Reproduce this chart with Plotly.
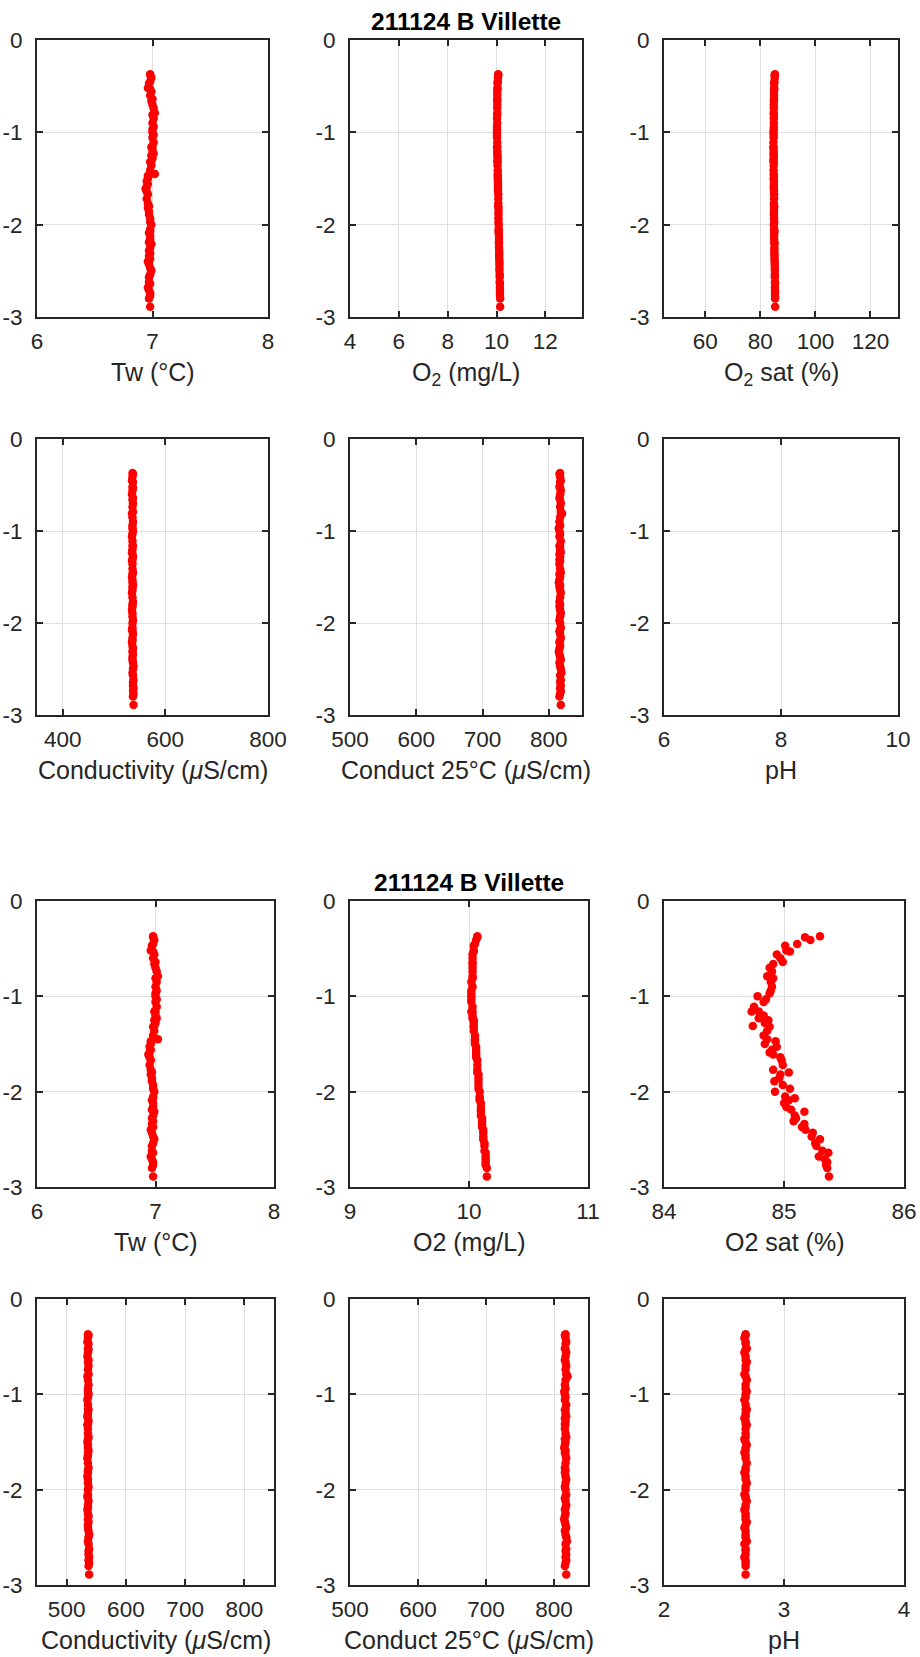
import plotly.graph_objects as go

# ---------------- data ----------------
depth = [-0.37, -0.38, -0.41, -0.45, -0.47, -0.52, -0.53, -0.56, -0.60, -0.64,
         -0.66, -0.70, -0.74, -0.79, -0.81, -0.85, -0.90, -0.94, -0.97, -1.00,
         -1.03, -1.06, -1.11, -1.16, -1.16, -1.20, -1.23, -1.25, -1.28, -1.31,
         -1.32, -1.36, -1.41, -1.45, -1.47, -1.50, -1.53, -1.56, -1.59, -1.61,
         -1.64, -1.67, -1.72, -1.77, -1.80, -1.82, -1.86, -1.89, -1.93, -1.97,
         -2.00, -2.05, -2.07, -2.09, -2.12, -2.16, -2.19, -2.21, -2.25, -2.28,
         -2.31, -2.34, -2.37, -2.40, -2.43, -2.47, -2.50, -2.54, -2.57, -2.62,
         -2.64, -2.68, -2.71, -2.74, -2.77, -2.80, -2.89]

temp_w = [6.98, 6.98, 6.99, 6.98, 6.97, 6.96, 6.98, 6.99, 6.98, 7.00,
          6.99, 7.00, 7.01, 7.02, 7.00, 7.01, 7.00, 7.01, 7.00, 7.00,
          7.01, 7.00, 7.01, 6.99, 7.00, 7.00, 7.01, 6.99, 7.00, 6.99,
          6.98, 6.99, 6.98, 7.02, 6.96, 6.96, 6.95, 6.96, 6.95, 6.94,
          6.95, 6.96, 6.95, 6.96, 6.97, 6.96, 6.97, 6.97, 6.98, 6.98,
          6.99, 6.98, 6.98, 6.97, 6.98, 6.98, 6.97, 6.99, 6.98, 6.97,
          6.98, 6.97, 6.98, 6.96, 6.97, 6.98, 6.99, 6.98, 6.97, 6.97,
          6.98, 6.96, 6.97, 6.98, 6.98, 6.97, 6.98]

o2_mgl = [10.07, 10.07, 10.06, 10.05, 10.04, 10.04, 10.04, 10.03, 10.03, 10.03,
          10.03, 10.03, 10.03, 10.03, 10.03, 10.02, 10.03, 10.02, 10.02, 10.02,
          10.02, 10.02, 10.03, 10.03, 10.02, 10.03, 10.03, 10.04, 10.04, 10.04,
          10.04, 10.04, 10.05, 10.05, 10.05, 10.05, 10.06, 10.06, 10.06, 10.06,
          10.06, 10.07, 10.07, 10.07, 10.07, 10.08, 10.08, 10.08, 10.08, 10.08,
          10.09, 10.09, 10.09, 10.09, 10.10, 10.10, 10.10, 10.10, 10.10, 10.11,
          10.11, 10.11, 10.11, 10.12, 10.12, 10.12, 10.12, 10.13, 10.13, 10.13,
          10.14, 10.14, 10.14, 10.14, 10.14, 10.15, 10.15]

o2_sat = [85.30, 85.175, 85.22, 85.11, 85.01, 85.02, 85.05, 84.94, 84.97, 84.99,
          84.91, 84.88, 84.90, 84.86, 84.91, 84.89, 84.90, 84.89, 84.88, 84.78,
          84.85, 84.83, 84.75, 84.73, 84.79, 84.83, 84.79, 84.87, 84.84, 84.74,
          84.88, 84.86, 84.83, 84.86, 84.93, 84.84, 84.94, 84.90, 84.88, 84.91,
          84.97, 84.98, 84.99, 84.91, 85.04, 84.97, 84.96, 84.92, 84.99, 85.05,
          84.925, 85.01, 85.09, 85.04, 85.00, 85.02, 85.06, 85.17, 85.09, 85.10,
          85.08, 85.17, 85.15, 85.18, 85.24, 85.23, 85.30, 85.26, 85.27, 85.32,
          85.37, 85.29, 85.34, 85.36, 85.35, 85.36, 85.375]

cond = [536, 537, 536, 535, 537, 536, 537, 536, 535, 537,
        536, 537, 536, 537, 535, 536, 537, 536, 536, 537,
        536, 535, 536, 537, 536, 536, 535, 536, 537, 536,
        535, 536, 536, 537, 536, 535, 536, 536, 537, 536,
        536, 535, 536, 537, 536, 536, 535, 536, 536, 537,
        536, 536, 535, 536, 537, 536, 536, 535, 536, 537,
        536, 537, 536, 536, 537, 538, 537, 536, 537, 538,
        537, 537, 538, 537, 538, 537, 538]

cond25 = [817, 816, 817, 818, 817, 816, 817, 818, 817, 816,
          817, 818, 817, 818, 820, 817, 816, 817, 815, 816,
          817, 816, 818, 817, 816, 817, 818, 816, 817, 816,
          817, 816, 817, 818, 816, 817, 816, 815, 817, 816,
          817, 818, 817, 816, 817, 816, 817, 818, 817, 816,
          817, 818, 817, 816, 817, 818, 817, 816, 817, 816,
          815, 816, 817, 818, 816, 817, 818, 819, 817, 818,
          817, 818, 817, 818, 817, 816, 818]

ph = [2.68, 2.68, 2.67, 2.68, 2.68, 2.69, 2.68, 2.67, 2.68, 2.68,
      2.69, 2.68, 2.68, 2.67, 2.68, 2.69, 2.68, 2.68, 2.69, 2.68,
      2.68, 2.67, 2.68, 2.68, 2.69, 2.68, 2.68, 2.67, 2.68, 2.68,
      2.69, 2.68, 2.68, 2.68, 2.67, 2.68, 2.69, 2.68, 2.68, 2.67,
      2.68, 2.68, 2.69, 2.68, 2.68, 2.67, 2.68, 2.68, 2.69, 2.68,
      2.68, 2.67, 2.68, 2.68, 2.69, 2.68, 2.68, 2.67, 2.68, 2.68,
      2.68, 2.69, 2.68, 2.67, 2.68, 2.68, 2.68, 2.69, 2.67, 2.68,
      2.68, 2.68, 2.67, 2.68, 2.68, 2.68, 2.68]

for s in (temp_w, o2_mgl, o2_sat, cond, cond25, ph):
    assert len(s) == len(depth)

title_text = "211124 B Villette"

top_labels = ["Tw (°C)", "O<sub>2</sub> (mg/L)", "O<sub>2</sub> sat (%)",
              "Conductivity (<i>μ</i>S/cm)", "Conduct 25°C (<i>μ</i>S/cm)", "pH"]
top_ranges = [[6, 8], [4, 13.5], [45, 130], [350, 800], [500, 850], [6, 10]]
top_ticks = [[6, 7, 8], [4, 6, 8, 10, 12], [60, 80, 100, 120],
             [400, 600, 800], [500, 600, 700, 800], [6, 8, 10]]

bot_labels = ["Tw (°C)", "O2 (mg/L)", "O2 sat (%)",
              "Conductivity (<i>μ</i>S/cm)", "Conduct 25°C (<i>μ</i>S/cm)", "pH"]
bot_ranges = [[6, 8], [9, 11], [84, 86], [450, 850], [500, 850], [2, 4]]
bot_ticks = [[6, 7, 8], [9, 10, 11], [84, 85, 86],
             [500, 600, 700, 800], [500, 600, 700, 800], [2, 3, 4]]

y_ticks = [0, -1, -2, -3]
y_ticktext = ["0", "-1", "-2", "-3"]

series = [temp_w, o2_mgl, o2_sat, cond, cond25, ph]

# ---------------- layout geometry (page pixels) ----------------
W, H = 920, 1657
rows_px = [(40, 317), (439, 715), (901, 1187), (1299, 1585)]
cols_top = [(37, 268), (350, 582), (664, 898)]
cols_bot = [(37, 274), (350, 588), (664, 904)]

INK = "#262626"
GRID = "#dfdfdf"
FONT = "Liberation Sans, Arial, Helvetica, sans-serif"
TICK_SIZE = 22.5
LABEL_SIZE = 25
TITLE_SIZE = 24.5


def px_x(v):
    return v / W


def px_y(v):
    return 1 - v / H


fig = go.Figure()
annotations = []
layout_axes = {}

k = 0
for fig_i in range(2):
    labels = top_labels if fig_i == 0 else bot_labels
    ranges = top_ranges if fig_i == 0 else bot_ranges
    ticks = top_ticks if fig_i == 0 else bot_ticks
    cols = cols_top if fig_i == 0 else cols_bot
    for r in range(2):
        y0, y1 = rows_px[fig_i * 2 + r]
        for c in range(3):
            k += 1
            p = r * 3 + c
            x0, x1 = cols[c]
            xa = "x" if k == 1 else f"x{k}"
            ya = "y" if k == 1 else f"y{k}"
            fig.add_trace(go.Scatter(
                x=series[p], y=depth, mode="markers",
                marker=dict(color="#ff0000", size=8.5, line=dict(width=0)),
                xaxis=xa, yaxis=ya, showlegend=False, hoverinfo="skip"))
            common = dict(
                showline=True, linecolor=INK, linewidth=2, mirror="ticks",
                ticks="inside", ticklen=6, tickwidth=2, tickcolor=INK,
                showgrid=True, gridcolor=GRID, gridwidth=1,
                zeroline=False, automargin=False,
                tickfont=dict(family=FONT, size=TICK_SIZE, color=INK),
            )
            layout_axes["xaxis" if k == 1 else f"xaxis{k}"] = dict(
                domain=[px_x(x0), px_x(x1)], anchor=ya, range=ranges[p],
                tickmode="array", tickvals=ticks[p],
                ticktext=[str(v) for v in ticks[p]],
                ticklabelstandoff=3, **common)
            layout_axes["yaxis" if k == 1 else f"yaxis{k}"] = dict(
                domain=[px_y(y1), px_y(y0)], anchor=xa, range=[-3, 0],
                tickmode="array", tickvals=y_ticks, ticktext=y_ticktext,
                ticklabelstandoff=8, **common)
            annotations.append(dict(
                text=labels[p], x=px_x((x0 + x1) / 2), y=px_y(y1 + 39),
                xref="paper", yref="paper", xanchor="center", yanchor="top",
                showarrow=False,
                font=dict(family=FONT, size=LABEL_SIZE, color=INK)))
    # title above the middle panel of the first row of each figure
    ty0 = rows_px[fig_i * 2][0]
    tx0, tx1 = cols[1]
    annotations.append(dict(
        text="<b>" + title_text + "</b>", x=px_x((tx0 + tx1) / 2),
        y=px_y(ty0 - 34), xref="paper", yref="paper",
        xanchor="center", yanchor="top", showarrow=False,
        font=dict(family=FONT, size=TITLE_SIZE, color="#000000")))

fig.update_layout(
    width=W, height=H,
    margin=dict(l=0, r=0, t=0, b=0, autoexpand=False),
    paper_bgcolor="white", plot_bgcolor="white",
    font=dict(family=FONT, color=INK),
    annotations=annotations,
    **layout_axes,
)

fig.write_html("out.html", config={"displayModeBar": False},
               post_script="document.body.style.margin='0';")
